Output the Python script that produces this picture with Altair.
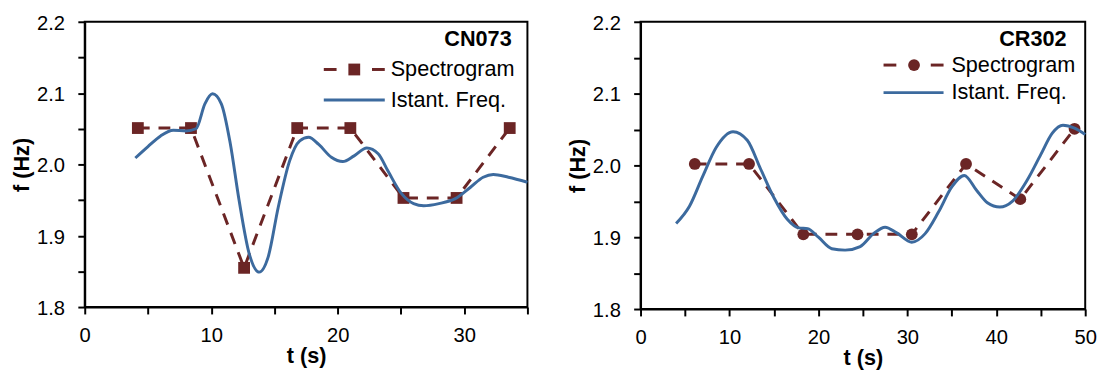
import altair as alt
import pandas as pd

FONT = "Liberation Sans"
RED = "#6B2525"
BLUE = "#3C6A9E"

# ---- CN073 ----
cn_spec_t = [4.2, 8.4, 12.6, 16.8, 21.0, 25.2, 29.4, 33.6]
cn_spec_f = [2.051, 2.051, 1.855, 2.051, 2.051, 1.953, 1.953, 2.051]
cn_if_t = [4.0, 5.0, 6.0, 7.0, 8.0, 8.8, 9.5, 10.1, 10.8, 11.5, 12.2, 13.0, 13.8,
           14.5, 15.3, 16.2, 17.0, 17.7, 18.5, 19.5, 20.4, 21.3, 22.3, 23.2, 24.0,
           25.0, 26.0, 26.8, 28.0, 29.3, 30.5, 31.5, 32.3, 33.5, 35.0]
cn_if_f = [2.009, 2.025, 2.040, 2.048, 2.047, 2.050, 2.085, 2.099, 2.085, 2.030,
           1.950, 1.875, 1.849, 1.870, 1.940, 2.005, 2.033, 2.038, 2.028, 2.010,
           2.004, 2.012, 2.023, 2.015, 1.990, 1.960, 1.945, 1.942, 1.945, 1.952,
           1.968, 1.982, 1.986, 1.982, 1.975]

# ---- CR302 ----
cr_spec_t = [6.1, 12.2, 18.3, 24.4, 30.5, 36.6, 42.7, 48.8]
cr_spec_f = [2.002, 2.002, 1.904, 1.904, 1.904, 2.002, 1.953, 2.051]
cr_if_t = [4.0, 5.5, 7.0, 8.5, 10.4, 12.0, 13.5, 15.0, 16.5, 17.8, 18.8, 20.0,
           21.5, 23.0, 24.7, 26.2, 27.5, 28.8, 30.5, 32.0, 33.5, 35.0, 36.4, 37.8,
           39.0, 40.4, 41.8, 43.5, 45.0, 46.3, 47.5, 48.8, 50.0]
cr_if_f = [1.919, 1.943, 1.985, 2.025, 2.047, 2.035, 1.995, 1.955, 1.925, 1.913,
           1.912, 1.900, 1.884, 1.882, 1.887, 1.905, 1.914, 1.906, 1.893, 1.905,
           1.935, 1.970, 1.986, 1.965, 1.948, 1.942, 1.950, 1.980, 2.015, 2.045,
           2.056, 2.052, 2.043]

y_ticks = [1.8, 1.85, 1.9, 1.95, 2.0, 2.05, 2.1, 2.15, 2.2]
legend_labels = ["Spectrogram", "Istant. Freq."]


def panel(name, spec_t, spec_f, if_t, if_f, x_ticks, shape, w, h, leg):
    spec = pd.DataFrame({"t": spec_t, "f": spec_f})
    inst = pd.DataFrame({"t": if_t, "f": if_f})
    xs = alt.Scale(domain=[x_ticks[0], x_ticks[-1]], nice=False, zero=False)
    ys = alt.Scale(domain=[y_ticks[0], y_ticks[-1]], nice=False, zero=False)
    xaxis = alt.Axis(title="t (s)", values=x_ticks, labelFlush=False,
                     labelExpr="datum.value % 10 === 0 ? datum.label : ''")
    yaxis = alt.Axis(title="f (Hz)", values=y_ticks,
                     labelExpr="abs(datum.value*10 - round(datum.value*10)) < 0.001 ? format(datum.value, '.1f') : ''")
    X = alt.X("t:Q", scale=xs, axis=xaxis)
    Y = alt.Y("f:Q", scale=ys, axis=yaxis)

    spec_line = alt.Chart(spec).mark_line(
        color=RED, strokeWidth=3, strokeDash=[12, 9]).encode(x=X, y=Y)
    spec_pts = alt.Chart(spec).mark_point(
        shape=shape, filled=True, size=144, color=RED, opacity=1).encode(x=X, y=Y)
    inst_line = alt.Chart(inst).mark_line(
        color=BLUE, strokeWidth=3, interpolate="monotone").encode(x=X, y=Y)

    one = pd.DataFrame({"k": [0]})
    lx1, lx2, lm, tx, ry1, ry2, ttx, tty = leg
    title = alt.Chart(one).mark_text(
        text=name, font=FONT, fontSize=22, fontWeight="bold", align="right",
        baseline="middle", color="black").encode(x=alt.value(ttx), y=alt.value(tty))
    d1 = alt.Chart(one).mark_rule(color=RED, strokeWidth=3).encode(
        x=alt.value(lx1), x2=alt.value(lx1 + 13), y=alt.value(ry1))
    d2 = alt.Chart(one).mark_rule(color=RED, strokeWidth=3).encode(
        x=alt.value(lx2 - 13), x2=alt.value(lx2), y=alt.value(ry1))
    mk = alt.Chart(one).mark_point(
        shape=shape, filled=True, size=144, color=RED, opacity=1).encode(
        x=alt.value(lm), y=alt.value(ry1))
    bl = alt.Chart(one).mark_rule(color=BLUE, strokeWidth=3).encode(
        x=alt.value(lx1), x2=alt.value(lx2), y=alt.value(ry2))
    t1 = alt.Chart(one).mark_text(
        text=legend_labels[0], font=FONT, fontSize=22, align="left",
        baseline="middle", color="black").encode(x=alt.value(tx), y=alt.value(ry1))
    t2 = alt.Chart(one).mark_text(
        text=legend_labels[1], font=FONT, fontSize=22, align="left",
        baseline="middle", color="black").encode(x=alt.value(tx), y=alt.value(ry2))

    return alt.layer(spec_line, spec_pts, inst_line, title, d1, d2, mk, bl, t1, t2
                     ).properties(width=w, height=h)


left = panel("CN073", cn_spec_t, cn_spec_f, cn_if_t, cn_if_f,
             [0, 5, 10, 15, 20, 25, 30, 35], "square", 450, 290,
             (243, 305, 274, 311, 48.5, 79.5, 434, 18))
right = panel("CR302", cr_spec_t, cr_spec_f, cr_if_t, cr_if_f,
              [0, 5, 10, 15, 20, 25, 30, 35, 40, 45, 50], "circle", 452, 292,
              (247, 308, 278, 316, 44, 72, 433, 18))

chart = alt.hconcat(left, right, spacing=32).properties(
    padding={"left": 2, "top": 1, "right": 0, "bottom": 0}, background="white"
).configure_axis(
    grid=False,
    domainColor="black", domainWidth=2,
    tickColor="black", tickWidth=2, tickSize=7,
    labelFont=FONT, labelFontSize=20.5, labelColor="black",
    titleFont=FONT, titleFontSize=22, titleFontWeight="bold", titleColor="black",
).configure_axisY(titlePadding=3, labelPadding=13.5, labelOffset=1.5) \
 .configure_axisX(titlePadding=-1, labelPadding=12.5) \
 .configure_view(stroke="black", strokeWidth=2)

chart.save("out.html", embed_options={"renderer": "svg", "actions": False})
